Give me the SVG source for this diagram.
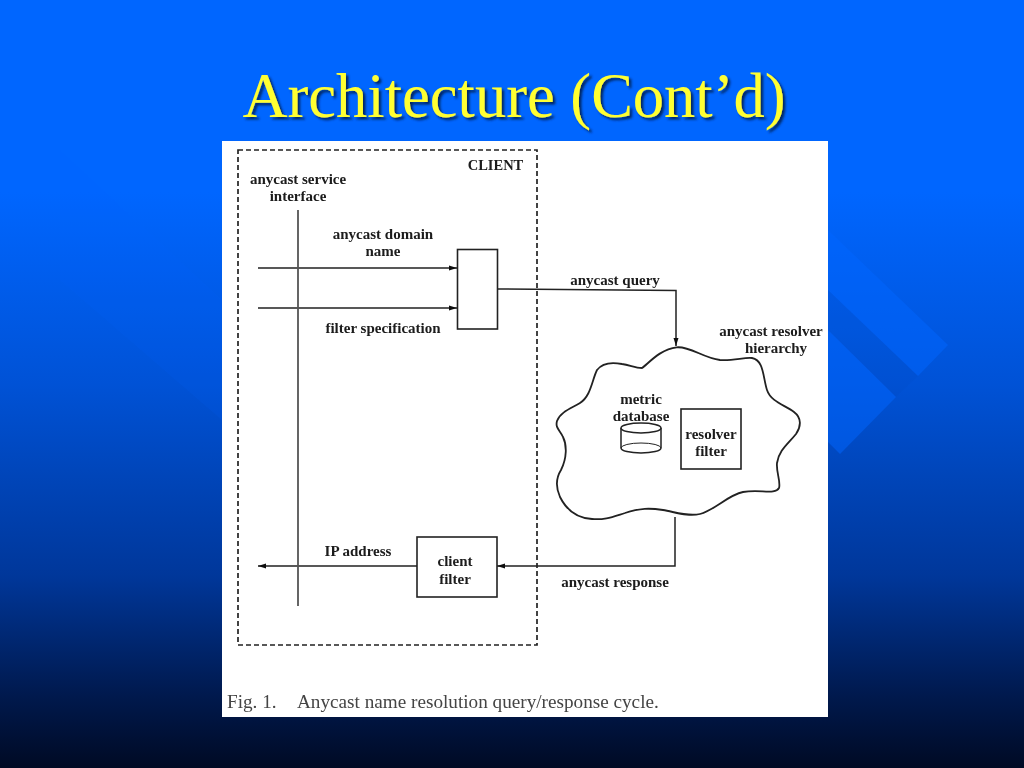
<svg xmlns="http://www.w3.org/2000/svg" width="1024" height="768" viewBox="0 0 1024 768">
<defs>
<linearGradient id="bg" gradientUnits="userSpaceOnUse" x1="0" y1="0" x2="0" y2="768">
<stop offset="0" stop-color="#0066ff"/><stop offset="0.25" stop-color="#0066ff"/><stop offset="0.5" stop-color="#0052d6"/><stop offset="0.75" stop-color="#00379a"/><stop offset="0.9" stop-color="#001a50"/><stop offset="1" stop-color="#000a24"/>
</linearGradient>
<filter id="shadow" x="-5%" y="-20%" width="110%" height="140%"><feDropShadow dx="2.5" dy="2.5" stdDeviation="0.8" flood-color="#00205a" flood-opacity="0.95"/></filter>
<filter id="scan" x="0" y="0" width="100%" height="100%"><feGaussianBlur stdDeviation="0.4"/></filter>
<marker id="arrow" viewBox="0 0 8 6" refX="8" refY="3" markerUnits="userSpaceOnUse" markerWidth="8" markerHeight="6" orient="auto"><path d="M0 0.500L8 3L0 5.500z" fill="#111"/></marker>
<style>
.lab{font-family:"Liberation Serif","Times New Roman",serif;font-weight:bold;font-size:15px;fill:#1a1a1a;text-anchor:middle}
.box{fill:#fff;stroke:#222;stroke-width:1.6}
.conn{fill:none;stroke:#222;stroke-width:1.5;marker-end:url(#arrow)}
</style>
</defs>
<g id="background">
<rect width="1024" height="768" fill="url(#bg)"/>
<polygon points="828,230 948,345 918,376 828,290" fill="#0066ff" opacity="0.5"/>
<polygon points="828,290 918,376 896,397 828,330" fill="#0040b0" opacity="0.1"/>
<polygon points="828,330 896,397 840,454 828,442" fill="#0066ff" opacity="0.5"/>
<polygon points="60,150 222,300 222,420 60,280" fill="#0066ff" opacity="0.12"/>
</g>
<text id="title" x="514" y="117" text-anchor="middle" font-family="'Liberation Serif','Times New Roman',serif" font-size="62.500" fill="#ffff33" filter="url(#shadow)">Architecture (Cont’d)</text>
<g filter="url(#scan)">
<rect id="figure" x="222" y="141" width="606" height="576" fill="#fff"/>
<g id="connectors">
<line class="conn" x1="258" y1="268" x2="457" y2="268"/>
<line class="conn" x1="258" y1="308" x2="457" y2="308"/>
<polyline class="conn" points="498,289 676,290.500 676,346"/>
<polyline class="conn" points="675,517 675,566 497,566"/>
<line class="conn" x1="417" y1="566" x2="258" y2="566"/>
<line class="conn" x1="661" y1="439" x2="681" y2="439" style="marker-end:none"/>
</g>
<g id="client-boundary">
<rect x="238" y="150" width="299" height="495" fill="none" stroke="#222" stroke-width="1.7" stroke-dasharray="5 3"/>
<text class="lab" x="495.500" y="170" style="font-size:14.500px">CLIENT</text>
</g>
<g id="service-interface">
<line x1="298" y1="210" x2="298" y2="606" stroke="#555" stroke-width="1.8"/>
<text class="lab" x="298" y="184">anycast service</text>
<text class="lab" x="298" y="201">interface</text>
</g>
<g id="input-labels">
<text class="lab" x="383" y="239">anycast domain</text>
<text class="lab" x="383" y="256">name</text>
<text class="lab" x="383" y="333">filter specification</text>
</g>
<g id="query-box"><rect class="box" x="457.500" y="249.500" width="40" height="79.500"/></g>
<g id="query-label"><text class="lab" x="615" y="285">anycast query</text></g>
<g id="resolver-cloud">
<path d="M676.700 347.300C690 346 703 358 720 360C733 361 745 357 752 358C764 360 763 378 767 390C771 402 785 405 794 412C802 418 801 427 796 434C788 444 779 450 777 463C776 472 781 482 779 488C775 495 760 489 743 492C728 495 715 510 700 514C688 517 675 512 663 510C650 508 640 508 625 513C612 517 605 520 592 519C575 518 565 507 560 497C555 486 556 478 561 470C567 458 567 445 563 437C560 430 555 428 557 421C560 412 572 408 580 403C591 396 592 380 597 370C603 362 612 362 622 364C630 365 635 368 642 368C648 364 660 349 676.700 347.300Z" fill="#fff" stroke="#222" stroke-width="1.8"/>
<text class="lab" x="771" y="336">anycast resolver</text>
<text class="lab" x="776" y="353">hierarchy</text>
</g>
<g id="metric-database">
<path d="M621 428V448A20 5 0 0 0 661 448V428" fill="#fff" stroke="#222" stroke-width="1.5"/>
<ellipse cx="641" cy="428" rx="20" ry="5" fill="#fff" stroke="#222" stroke-width="1.5"/>
<path d="M621 448A20 5 0 0 1 661 448" fill="none" stroke="#222" stroke-width="1"/>
<text class="lab" x="641" y="404">metric</text>
<text class="lab" x="641" y="421">database</text>
</g>
<g id="resolver-filter">
<rect class="box" x="681" y="409" width="60" height="60"/>
<text class="lab" x="711" y="439">resolver</text>
<text class="lab" x="711" y="456">filter</text>
</g>
<g id="client-filter">
<rect class="box" x="417" y="537" width="80" height="60"/>
<text class="lab" x="455" y="566">client</text>
<text class="lab" x="455" y="584">filter</text>
</g>
<g id="response-labels">
<text class="lab" x="358" y="556">IP address</text>
<text class="lab" x="615" y="587">anycast response</text>
</g>
<text id="caption" y="708" font-family="'Liberation Serif','Times New Roman',serif" font-size="19.200" fill="#444"><tspan x="227">Fig. 1.</tspan><tspan x="297">Anycast name resolution query/response cycle.</tspan></text>
</g>
</svg>
